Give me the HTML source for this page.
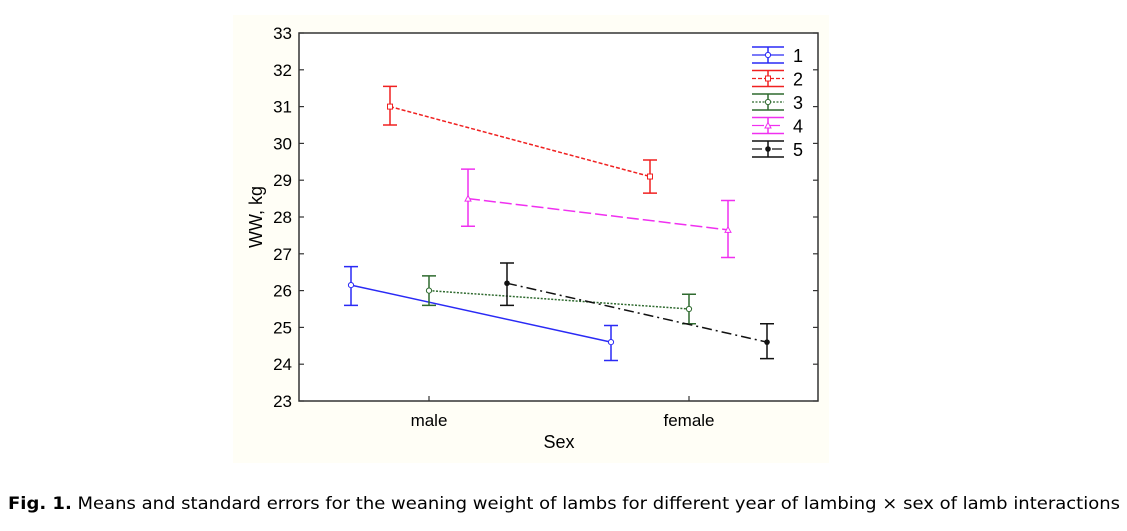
<!DOCTYPE html>
<html><head><meta charset="utf-8"><style>
body{margin:0;background:#fff;width:1127px;height:531px;overflow:hidden}
svg{display:block}
svg text{font-family:"Liberation Sans", Arial, sans-serif}
svg text.cap{font-family:"DejaVu Sans","Liberation Sans",sans-serif}
</style></head><body>
<svg id="chart" width="1127" height="531">
<rect x="233" y="15" width="596" height="448" fill="#fffef6"/>
<rect x="299" y="33" width="519" height="368" fill="#fff" stroke="#333" stroke-width="1.5"/>
<g id="yaxis"></g>
<g id="xaxis"></g>
<text x="262" y="217" font-size="18" text-anchor="middle" transform="rotate(-90 262 217)">WW, kg</text>
<text x="559" y="448" font-size="18" text-anchor="middle">Sex</text>
<g id="series"></g>
<g id="legend"></g>
<text class="cap" x="8" y="509" font-size="17" textLength="1112" lengthAdjust="spacingAndGlyphs"><tspan font-weight="bold">Fig. 1.</tspan> Means and standard errors for the weaning weight of lambs for different year of lambing × sex of lamb interactions</text>
</svg>
<script>
const categories = ["male", "female"];
const seriesNames = ["1", "2", "3", "4", "5"];
const means = [[26.15, 24.6], [31.0, 29.1], [26.0, 25.5], [28.5, 27.65], [26.2, 24.6]];
const upper = [[26.65, 25.05], [31.55, 29.55], [26.4, 25.9], [29.3, 28.45], [26.75, 25.1]];
const lower = [[25.6, 24.1], [30.5, 28.65], [25.6, 25.1], [27.75, 26.9], [25.6, 24.15]];
const yTicks = [23, 24, 25, 26, 27, 28, 29, 30, 31, 32, 33];

const NS = "http://www.w3.org/2000/svg";
const colors = ["#2a2af5", "#f02020", "#2f6a2f", "#f030f0", "#111111"];
const dashes = ["", "4,2", "2,1.5", "12,4", "10,4,2,4"];
const markers = ["circle", "square", "circle", "triangle", "dot"];
const Y = v => 401 - (v - 23) * 36.8;
const catX = i => 429 + i * 260;
const offX = s => (s - 2) * 39;
function el(tag, attrs, parent) { const e = document.createElementNS(NS, tag); for (const k in attrs) e.setAttribute(k, attrs[k]); parent.appendChild(e); return e; }

const ya = document.getElementById("yaxis");
yTicks.forEach(t => {
  const l = el("line", {x1: 299, x2: 304, y1: Y(t), y2: Y(t), stroke: "#333", "stroke-width": 1.2}, ya);
  
  
  const r = el("line", {x1: 813, x2: 818, y1: Y(t), y2: Y(t), stroke: "#333", "stroke-width": 1.2}, ya);
  
  
  const tx = el("text", {x: 292, y: Y(t) + 6, "font-size": 17, "text-anchor": "end"}, ya);
  tx.textContent = t;
  
  
});
const xa = document.getElementById("xaxis");
categories.forEach((c, i) => {
  const l = el("line", {x1: catX(i), x2: catX(i), y1: 401, y2: 396, stroke: "#333", "stroke-width": 1.2}, xa);
  
  
  const tx = el("text", {x: catX(i), y: 426, "font-size": 17, "text-anchor": "middle"}, xa);
  tx.textContent = c;
  
  
});

function marker(g, s, x, y) {
  const c = colors[s];
  let m;
  if (markers[s] === "square") m = el("rect", {x: x - 2.5, y: y - 2.5, width: 5, height: 5, fill: "#fff", stroke: c}, g);
  else if (markers[s] === "triangle") m = el("polygon", {points: `${x},${y-3} ${x-3},${y+2.5} ${x+3},${y+2.5}`, fill: "#fff", stroke: c}, g);
  else if (markers[s] === "dot") m = el("circle", {cx: x, cy: y, r: 2.8, fill: c}, g);
  else m = el("circle", {cx: x, cy: y, r: 2.6, fill: "#fff", stroke: c}, g);
  return m;
}

const sg = document.getElementById("series");
seriesNames.forEach((name, s) => {
  const g = el("g", {}, sg);
  
  
  const pts = categories.map((c, i) => [catX(i) + offX(s), Y(means[s][i])]);
  const ln = el("line", {x1: pts[0][0], y1: pts[0][1], x2: pts[1][0], y2: pts[1][1], stroke: colors[s], "stroke-width": 1.5, "stroke-dasharray": dashes[s]}, g);
  
  
  categories.forEach((c, i) => {
    const x = pts[i][0], yu = Y(upper[s][i]), yl = Y(lower[s][i]);
    const eb = el("path", {d: `M${x},${yu}V${yl}M${x-7},${yu}H${x+7}M${x-7},${yl}H${x+7}`, stroke: colors[s], "stroke-width": 1.5, fill: "none"}, g);
    
    
    const m = marker(g, s, x, pts[i][1]);
    
    
  });
});

const lg = document.getElementById("legend");
seriesNames.forEach((name, s) => {
  const g = el("g", {}, lg);
  
  
  const b = 47 + s * 23.5, c = colors[s];
  el("path", {d: `M752,${b}H784M752,${b+16}H784M768,${b}V${b+16}`, stroke: c, "stroke-width": 1.5, fill: "none"}, g);
  el("line", {x1: 752, x2: 784, y1: b + 8, y2: b + 8, stroke: c, "stroke-width": 1.2, "stroke-dasharray": dashes[s]}, g);
  marker(g, s, 768, b + 8);
  const t = el("text", {x: 793, y: b + 15, "font-size": 18}, g);
  t.textContent = name;
  
  
});
</script>
</body></html>
